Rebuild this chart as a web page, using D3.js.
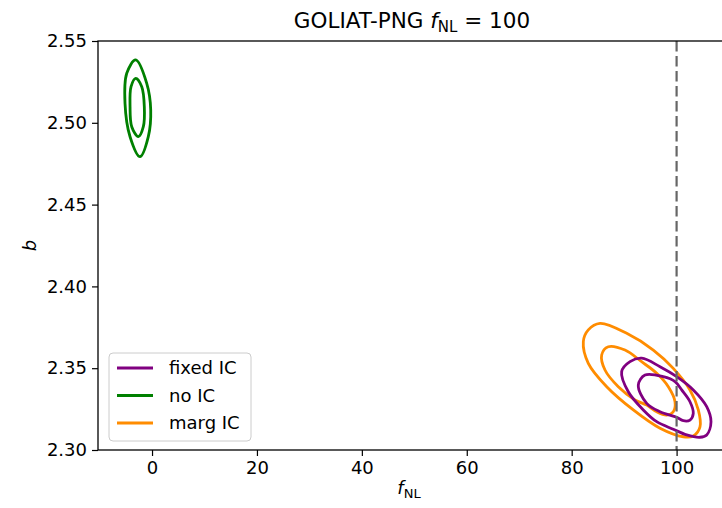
<!DOCTYPE html>
<html>
<head>
<meta charset="utf-8">
<script src="https://cdn.jsdelivr.net/npm/d3@7"></script>
<style>
  body { margin: 0; background: #fff; }
  text { font-family: "DejaVu Sans", sans-serif; fill: #000; }
</style>
</head>
<body>
<div id="chart"></div>
<script>
// Contour levels, as [fNL, b] pairs
const fixedOuter = [[89.53,2.3479],[91.12,2.3540],[93.35,2.3561],[96.84,2.3509],[100.02,2.3448],[103.18,2.3367],[105.74,2.3265],[106.56,2.3173],[105.74,2.3092],[104.46,2.3078],[101.93,2.3092],[99.37,2.3127],[96.21,2.3173],[93.65,2.3245],[90.79,2.3356]];
const fixedInner = [[92.70,2.3397],[93.98,2.3458],[97.46,2.3448],[99.70,2.3418],[100.97,2.3367],[102.55,2.3295],[103.18,2.3224],[102.55,2.3183],[101.28,2.3179],[100.02,2.3200],[96.84,2.3234],[94.30,2.3285]];
const noICOuter = [[-3.11,2.5384],[-1.01,2.5241],[-0.25,2.5078],[-0.71,2.4915],[-2.29,2.4793],[-4.19,2.4915],[-5.15,2.5119],[-4.82,2.5303]];
const noICInner = [[-3.11,2.5272],[-1.96,2.5221],[-1.47,2.5098],[-1.66,2.4976],[-2.61,2.4915],[-3.87,2.4976],[-4.19,2.5098],[-4.00,2.5221]];
const margOuter = [[82.22,2.3662],[83.17,2.3734],[85.40,2.3774],[90.49,2.3713],[95.56,2.3611],[99.37,2.3499],[102.55,2.3367],[104.14,2.3245],[104.46,2.3142],[103.18,2.3086],[101.28,2.3081],[96.84,2.3133],[91.75,2.3245],[86.68,2.3387],[83.17,2.3530]];
const margInner = [[85.72,2.3581],[86.98,2.3631],[90.16,2.3611],[93.40,2.3538],[96.21,2.3469],[98.42,2.3387],[99.70,2.3295],[99.37,2.3234],[98.11,2.3214],[96.21,2.3234],[94.30,2.3275],[92.07,2.3306],[88.89,2.3387],[86.35,2.3489]];

const seriesNames  = ['fixed IC', 'no IC', 'marg IC'];
const seriesColors = ['#800080', '#008000', '#ff8c00'];
const seriesLevels = [[fixedOuter, fixedInner], [noICOuter, noICInner], [margOuter, margInner]];
const drawOrder = [2, 0, 1];   // marg IC first, fixed IC drawn over it

const xTicks = [0, 20, 40, 60, 80, 100];
const yTicks = [2.30, 2.35, 2.40, 2.45, 2.50, 2.55];
const trueFNL = 100;

const W = 722, H = 508;
const margin = { top: 41, left: 98 };
const plotW = 630, plotH = 409;

const svg = d3.select('#chart').append('svg')
    .attr('width', W).attr('height', H);

const x = d3.scaleLinear().domain([-10.3, 109.8]).range([margin.left, margin.left + plotW]);
const y = d3.scaleLinear().domain([2.30, 2.55]).range([margin.top + plotH, margin.top]);

svg.append('clipPath').attr('id', 'plotClip')
    .append('rect')
    .attr('x', margin.left).attr('y', margin.top)
    .attr('width', plotW).attr('height', plotH);

const plot = svg.append('g').attr('clip-path', 'url(#plotClip)');

// Contours
const line = d3.line()
    .x(d => x(d[0])).y(d => y(d[1]))
    .curve(d3.curveCatmullRomClosed.alpha(0.5));

drawOrder.forEach(i => {
    seriesLevels[i].forEach(level => {
        plot.append('path')
            .attr('d', line(level))
            .attr('fill', 'none')
            .attr('stroke', seriesColors[i])
            .attr('stroke-width', 2.8);
    });
});

// Truth line
plot.append('line')
    .attr('x1', x(trueFNL)).attr('x2', x(trueFNL))
    .attr('y1', margin.top).attr('y2', margin.top + plotH)
    .attr('stroke', '#666')
    .attr('stroke-width', 2.2)
    .attr('stroke-dasharray', '10.5,4.5');

// Axes
const tickFont = 18;
const xAxis = svg.append('g')
    .attr('transform', `translate(0,${margin.top + plotH})`)
    .call(d3.axisBottom(x).tickValues(xTicks).tickSize(6).tickPadding(5).tickFormat(d3.format('d')));
const yAxis = svg.append('g')
    .attr('transform', `translate(${margin.left},0)`)
    .call(d3.axisLeft(y).tickValues(yTicks).tickSize(6).tickPadding(5).tickFormat(d3.format('.2f')));

[xAxis, yAxis].forEach(ax => {
    ax.select('.domain').remove();
    ax.selectAll('.tick line').attr('stroke', '#000').attr('stroke-width', 1.2);
    ax.selectAll('.tick text')
        .style('font-family', '"DejaVu Sans", sans-serif')
        .style('font-size', tickFont + 'px')
        .attr('fill', '#000');
});

// Spines
svg.append('rect')
    .attr('x', margin.left).attr('y', margin.top)
    .attr('width', plotW).attr('height', plotH)
    .attr('fill', 'none')
    .attr('stroke', '#000')
    .attr('stroke-width', 1.3);

// Title
const title = svg.append('text')
    .attr('x', margin.left + plotW / 2 - 1)
    .attr('y', 28)
    .attr('text-anchor', 'middle')
    .style('font-size', '21.5px');
title.append('tspan').text('GOLIAT-PNG ');
title.append('tspan').style('font-style', 'italic').text('f');
title.append('tspan').attr('dy', 4).style('font-size', '15px').text('NL');
title.append('tspan').attr('dy', -4).text(' = 100');

// Axis labels
const xl = svg.append('text')
    .attr('x', margin.left + plotW / 2 - 4)
    .attr('y', 494)
    .attr('text-anchor', 'middle')
    .style('font-size', tickFont + 'px');
xl.append('tspan').style('font-style', 'italic').text('f');
xl.append('tspan').attr('dy', 4).style('font-size', '13px').text('NL');

svg.append('text')
    .attr('transform', `translate(36,${margin.top + plotH / 2}) rotate(-90)`)
    .attr('text-anchor', 'middle')
    .style('font-size', tickFont + 'px')
    .style('font-style', 'italic')
    .text('b');

// Legend
const legend = svg.append('g').attr('transform', 'translate(109,353)');
legend.append('rect')
    .attr('width', 142).attr('height', 88)
    .attr('rx', 4)
    .attr('fill', 'rgba(255,255,255,0.8)')
    .attr('stroke', '#ccc')
    .attr('stroke-width', 1);

seriesNames.forEach((name, i) => {
    const row = legend.append('g').attr('transform', `translate(0,${15 + i * 27.5})`);
    row.append('line')
        .attr('x1', 8).attr('x2', 44)
        .attr('stroke', seriesColors[i])
        .attr('stroke-width', 2.8);
    row.append('text')
        .attr('x', 60).attr('dy', '0.35em')
        .style('font-size', tickFont + 'px')
        .text(name);
});
</script>
</body>
</html>
